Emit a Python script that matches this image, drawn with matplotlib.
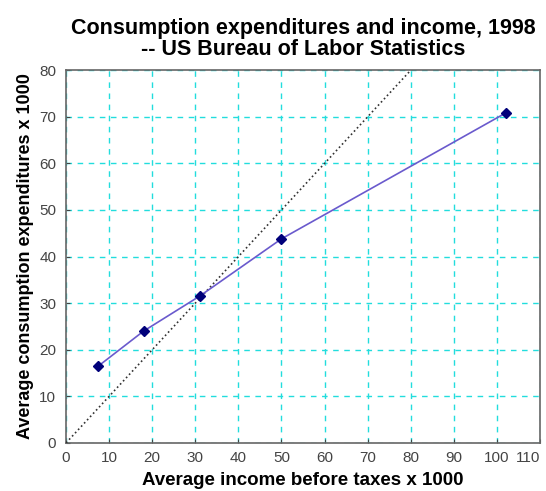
import matplotlib
matplotlib.use("Agg")
import matplotlib.pyplot as plt

# BLS 1998: income before taxes vs consumption expenditures (both x 1000)
income = [7.5, 18.0, 31.0, 50.0, 102.0]
expenditures = [16.5, 24.0, 31.5, 43.8, 70.8]
ref_x = [0, 80]
ref_y = [0, 80]
x_ticks = list(range(0, 111, 10))
y_ticks = list(range(0, 81, 10))

plt.rcParams["font.family"] = ["Liberation Sans", "DejaVu Sans"]

fig = plt.figure(figsize=(5.46, 4.91), dpi=100)
ax = fig.add_axes([0.121, 0.098, 0.868, 0.759])

ax.plot(ref_x, ref_y, color="#333333", linestyle=":", linewidth=1.2, zorder=3)
ax.plot(income, expenditures, color="#6a5acd", linewidth=1.2, zorder=4)
ax.plot(income, expenditures, linestyle="none", marker="D", markersize=5,
        color="#00007a", zorder=5)

ax.set_xlim(0, 110)
ax.set_ylim(0, 80)
ax.set_xticks(x_ticks)
ax.set_yticks(y_ticks)
ax.grid(True, color="#22dddd", linestyle=(0, (4, 4)), linewidth=1.0, zorder=1)
ax.tick_params(direction="in", length=3, labelsize=11, colors="#444444")
ax.tick_params(axis="x", pad=6)
ax.tick_params(axis="y", pad=7)
for s in ax.spines.values():
    s.set_color("#666666")
    s.set_linewidth(1.2)

# last x label sits inside the figure edge
ax.get_xticklabels()[-1].set_horizontalalignment("right")
ax.get_xticklabels()[-1].set_x(112)

ax.set_xlabel("Average income before taxes x 1000", fontsize=13.5,
              fontweight="bold", labelpad=5)
ax.set_ylabel("Average consumption expenditures x 1000", fontsize=13,
              fontweight="bold", labelpad=4)
ax.set_title("Consumption expenditures and income, 1998\n-- US Bureau of Labor Statistics",
             fontsize=15.5, fontweight="bold", pad=11, linespacing=1.0)

fig.savefig("out.png", dpi=100)
